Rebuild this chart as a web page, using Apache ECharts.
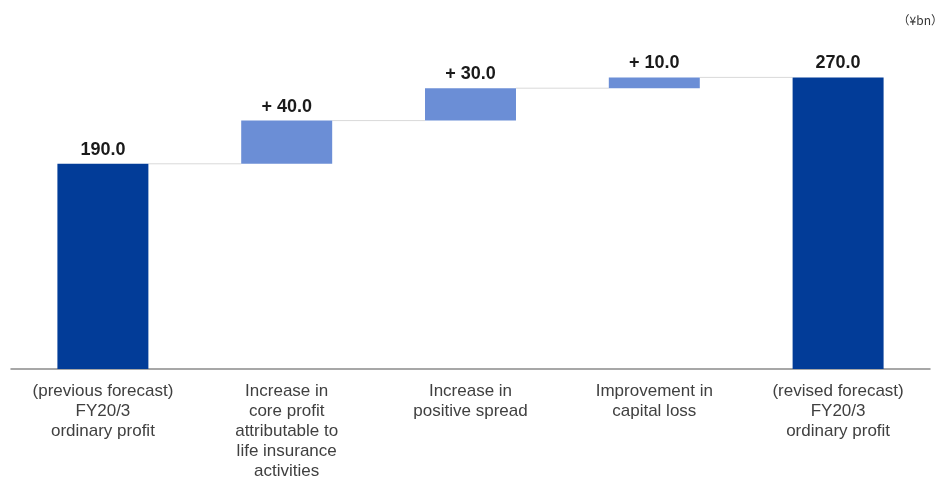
<!DOCTYPE html>
<html>
<head>
<meta charset="utf-8">
<script src="https://cdn.jsdelivr.net/npm/echarts@6/dist/echarts.min.js"></script>
<style>
  html, body { margin: 0; padding: 0; background: #ffffff; }
  #chart { width: 945px; height: 477px; }
</style>
</head>
<body>
<div id="chart"></div>
<script>
// Ordinary profit bridge, FY20/3 (¥bn)
const categories = [
  '(previous forecast)\nFY20/3\nordinary profit',
  'Increase in\ncore profit\nattributable to\nlife insurance\nactivities',
  'Increase in\npositive spread',
  'Improvement in\ncapital loss',
  '(revised forecast)\nFY20/3\nordinary profit'
];
const startTotal = 190.0;
const increments = [40.0, 30.0, 10.0];
const endTotal = 270.0;
const unitLabel = '（¥bn）';

const totalColor = '#023C98';
const stepColor = '#6B8ED6';

// Build the floating base and visible segments of the waterfall
const baseVals = [0];
const barVals = [startTotal];
const labels = [startTotal.toFixed(1)];
let running = startTotal;
increments.forEach(v => {
  baseVals.push(running);
  barVals.push(v);
  labels.push('+ ' + v.toFixed(1));
  running += v;
});
baseVals.push(0);
barVals.push(endTotal);
labels.push(endTotal.toFixed(1));

// Connector levels: top of each bar, linking to the next one
const levels = [];
for (let i = 0; i < categories.length - 1; i++) {
  levels.push([i, baseVals[i] + barVals[i]]);
}

const BAR_RATIO = 0.495;

const chart = echarts.init(document.getElementById('chart'), null, { renderer: 'canvas' });
chart.setOption({
  animation: false,
  backgroundColor: '#ffffff',
  grid: { left: 11, right: 15, top: 45, bottom: 108, outerBoundsMode: 'none', containLabel: false },
  graphic: [{
    type: 'text',
    right: 2,
    top: 14,
    style: {
      text: unitLabel,
      fontSize: 12,
      fontFamily: '"Noto Sans CJK SC", sans-serif',
      fill: '#333333'
    }
  }],
  xAxis: {
    type: 'category',
    data: categories,
    axisTick: { show: false },
    axisLine: { lineStyle: { color: '#8a8a8a', width: 1.5 } },
    axisLabel: {
      interval: 0,
      margin: 12,
      color: '#404040',
      fontSize: 17,
      lineHeight: 20,
      fontFamily: 'Arial, "Liberation Sans", sans-serif'
    }
  },
  yAxis: {
    type: 'value',
    min: 0,
    max: 300,
    show: false,
    splitLine: { show: false }
  },
  series: [
    {
      type: 'custom',
      z: 1,
      silent: true,
      data: levels,
      encode: { x: 0, y: 1 },
      renderItem: function (params, api) {
        const p = api.coord([api.value(0), api.value(1)]);
        const band = api.size([1, 0])[0];
        const half = band * BAR_RATIO / 2;
        return {
          type: 'line',
          shape: { x1: p[0] + half, y1: p[1], x2: p[0] + band - half, y2: p[1] },
          style: { stroke: '#d9d9d9', lineWidth: 1 }
        };
      }
    },
    {
      type: 'bar',
      stack: 'wf',
      z: 2,
      barWidth: (BAR_RATIO * 100) + '%',
      itemStyle: { color: 'transparent' },
      emphasis: { disabled: true },
      data: baseVals
    },
    {
      type: 'bar',
      stack: 'wf',
      z: 2,
      barWidth: (BAR_RATIO * 100) + '%',
      data: barVals.map((v, i) => ({
        value: v,
        itemStyle: { color: (i === 0 || i === barVals.length - 1) ? totalColor : stepColor }
      })),
      label: {
        show: true,
        position: 'top',
        distance: 5,
        color: '#1a1a1a',
        fontWeight: 'bold',
        fontSize: 18,
        fontFamily: 'Arial, "Liberation Sans", sans-serif',
        formatter: p => labels[p.dataIndex]
      }
    }
  ]
});
</script>
</body>
</html>
